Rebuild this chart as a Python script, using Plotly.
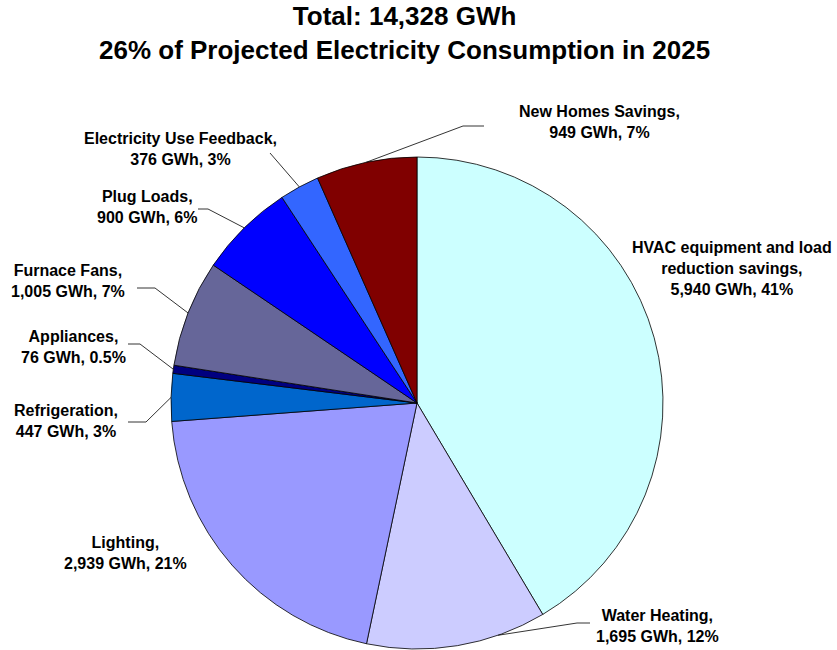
import math
import plotly.graph_objects as go

# Savings by end use, in GWh (clockwise from 12 o'clock)
categories = [
    "HVAC equipment and load<br>reduction savings",
    "Water Heating",
    "Lighting",
    "Refrigeration",
    "Appliances",
    "Furnace Fans",
    "Plug Loads",
    "Electricity Use Feedback",
    "New Homes Savings",
]
savings_gwh = [5940, 1695, 2939, 447, 76, 1005, 900, 376, 949]
percent_labels = ["41%", "12%", "21%", "3%", "0.5%", "7%", "6%", "3%", "7%"]
colors = ["#CCFFFF", "#CCCCFF", "#9999FF", "#0066CC", "#000080",
          "#666699", "#0000FF", "#3366FF", "#800000"]

W, H = 837, 650
CX, CY, R = 417, 403, 246

# Label placement (pixel centres) and leader-line elbows
label_pos = [(732, 268), (657, 626), (125, 553), (66, 421), (73, 347),
             (68, 281), (147, 207), (180, 149), (599, 122)]
# (elbow x, elbow y, end x) or None for labels without a leader line
leaders = [None, (577, 623, 590), None, (146, 422, 128), (140, 344, 128),
           (155, 288, 137), (208, 209, 198), (270, 153, 270), (463, 126, 484)]
anchor_frac = [0.5, 0.27, 0.5, 0.5, 0.5, 0.5, 0.5, 0.5, 0.5]


def px(x):
    return x / W


def py(y):
    return 1 - y / H


fig = go.Figure(go.Pie(
    labels=categories,
    values=savings_gwh,
    sort=False,
    direction="clockwise",
    rotation=0,
    marker=dict(colors=colors, line=dict(color="black", width=0.8)),
    textinfo="none",
    hoverinfo="skip",
    showlegend=False,
    domain=dict(x=[px(CX - R), px(CX + R)], y=[py(CY + R), py(CY - R)]),
))

total = sum(savings_gwh)
annotations = []
shapes = []
cum = 0.0
for i, v in enumerate(savings_gwh):
    start = cum / total * 360
    cum += v
    end = cum / total * 360
    theta = math.radians(start + (end - start) * anchor_frac[i])
    ax = CX + R * math.sin(theta)
    ay = CY - R * math.cos(theta)

    text = f"{categories[i]},<br>{v:,} GWh, {percent_labels[i]}"
    lx, ly = label_pos[i]
    annotations.append(dict(
        x=px(lx), y=py(ly), xref="paper", yref="paper",
        xanchor="center", yanchor="middle", align="center",
        text=text, showarrow=False,
        font=dict(family="Liberation Sans, Arial, sans-serif", size=16,
                  color="black", weight="bold"),
    ))

    if leaders[i] is not None:
        ex, ey, tx = leaders[i]
        path = (f"M {px(ax)},{py(ay)} L {px(ex)},{py(ey)} "
                f"L {px(tx)},{py(ey)}")
        shapes.append(dict(type="path", path=path, xref="paper", yref="paper",
                           line=dict(color="black", width=0.8)))

annotations.append(dict(
    x=px(404), y=py(33), xref="paper", yref="paper",
    xanchor="center", yanchor="middle", align="center", showarrow=False,
    text="Total: 14,328 GWh<br>26% of Projected Electricity Consumption in 2025",
    font=dict(family="Liberation Sans, Arial, sans-serif", size=26,
              color="black", weight="bold"),
))

fig.update_layout(
    width=W, height=H,
    margin=dict(l=0, r=0, t=0, b=0),
    paper_bgcolor="white",
    plot_bgcolor="white",
    annotations=annotations,
    shapes=shapes,
)

fig.write_html("out.html")
